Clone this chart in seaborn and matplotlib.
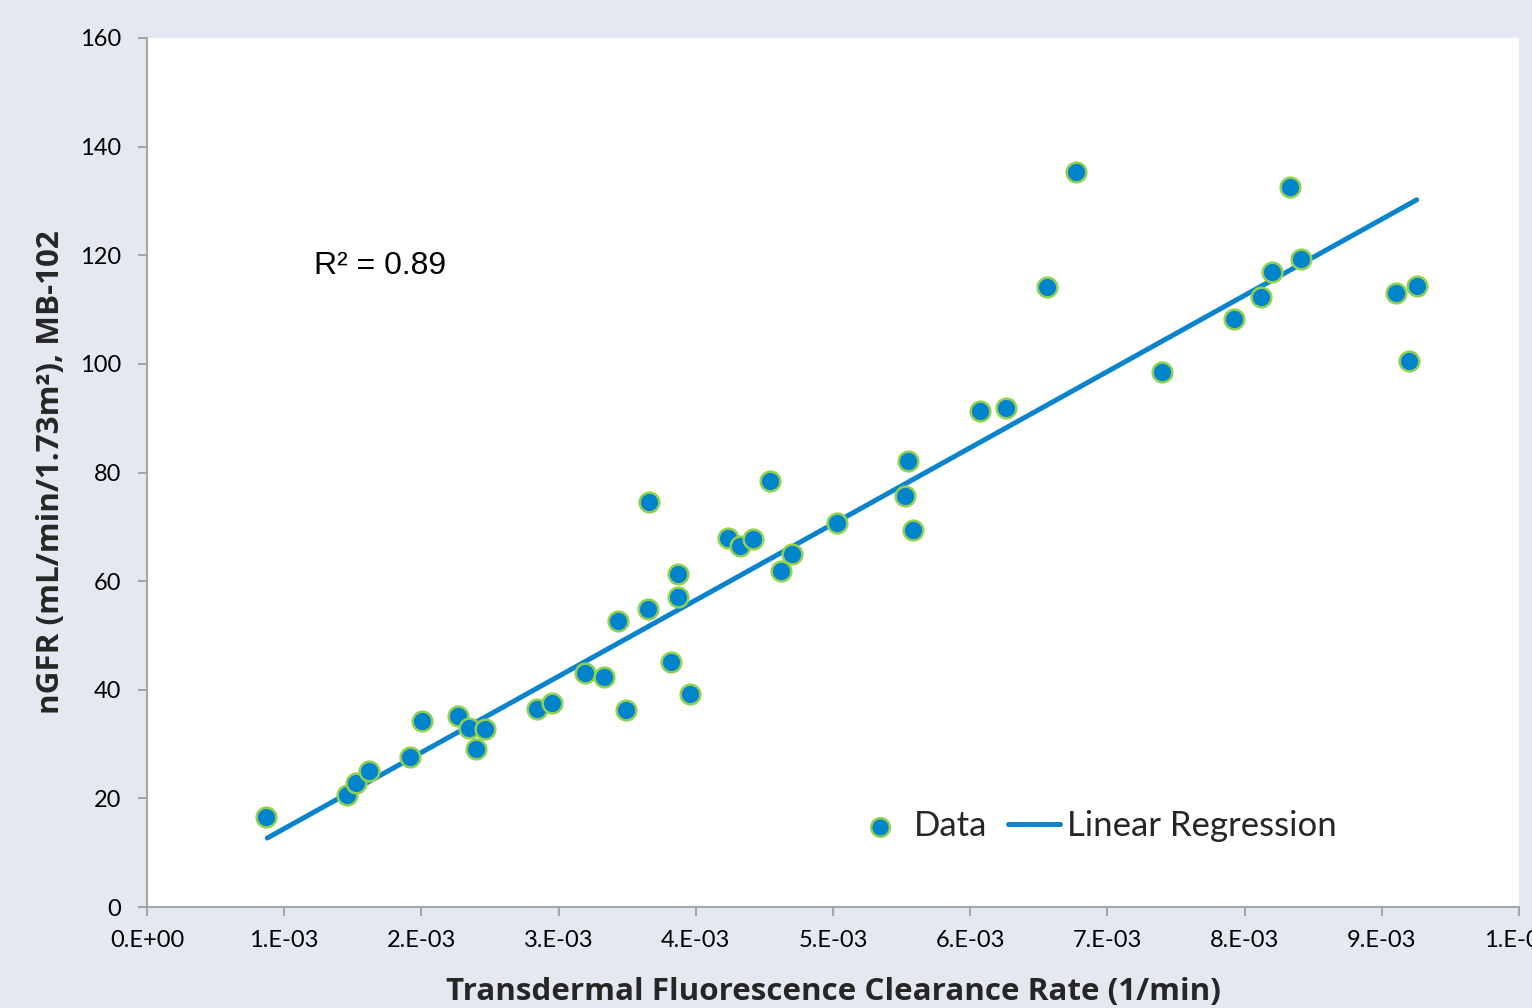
import numpy as np
import pandas as pd
import matplotlib
matplotlib.use("Agg")
import matplotlib.pyplot as plt
from matplotlib.ticker import FixedLocator, FixedFormatter
import seaborn as sns

# ---- data ----
clearance = [0.867e-3, 1.458e-3, 1.523e-3, 1.618e-3, 1.917e-3, 2.004e-3, 2.267e-3,
             2.347e-3, 2.398e-3, 2.464e-3, 2.843e-3, 2.952e-3, 3.192e-3, 3.331e-3,
             3.433e-3, 3.491e-3, 3.652e-3, 3.659e-3, 3.819e-3, 3.870e-3, 3.870e-3,
             3.958e-3, 4.235e-3, 4.322e-3, 4.417e-3, 4.541e-3, 4.621e-3, 4.701e-3,
             5.029e-3, 5.525e-3, 5.547e-3, 5.583e-3, 6.071e-3, 6.261e-3, 6.560e-3,
             6.771e-3, 7.398e-3, 7.923e-3, 8.120e-3, 8.200e-3, 8.331e-3, 8.411e-3,
             9.104e-3, 9.198e-3, 9.257e-3]
ngfr = [16.6, 20.7, 22.9, 25.1, 27.7, 34.3, 35.2,
        33.0, 29.0, 32.7, 36.4, 37.5, 43.0, 42.3,
        52.6, 36.2, 54.8, 74.6, 45.2, 61.3, 57.0,
        39.3, 67.9, 66.4, 67.7, 78.4, 61.8, 65.0,
        70.7, 75.7, 82.1, 69.4, 91.3, 91.9, 114.2,
        135.4, 98.5, 108.3, 112.4, 117.0, 132.5, 119.4,
        113.1, 100.6, 114.4]

# regression line end points as shown in the reference
fit_x = [0.877e-3, 9.254e-3]
fit_y = [12.7, 130.2]

x_ticks = [i * 1e-3 for i in range(11)]
x_tick_labels = ["0.E+00", "1.E-03", "2.E-03", "3.E-03", "4.E-03", "5.E-03",
                 "6.E-03", "7.E-03", "8.E-03", "9.E-03", "1.E-02"]
y_ticks = [0, 20, 40, 60, 80, 100, 120, 140, 160]
r2_text = "R\u00b2 = 0.89"

df = pd.DataFrame({"x": clearance, "y": ngfr})
fit = pd.DataFrame({"x": fit_x, "y": fit_y})

# ---- style ----
sns.set_theme(style="white")
plt.rcParams["font.family"] = ["Lato", "DejaVu Sans"]
bg = "#E4E8F0"
dot_color = "#0284CC"
edge_color = "#92D050"
line_color = "#0A84CC"
spine_color = "#A6A6A6"

fig = plt.figure(figsize=(15.32, 10.08), dpi=100, facecolor=bg)
ax = fig.add_axes([147 / 1532, 101 / 1008, (1519 - 147) / 1532, (907 - 38) / 1008])
ax.set_facecolor("white")

sns.lineplot(data=fit, x="x", y="y", ax=ax, color=line_color, linewidth=3.6,
             solid_capstyle="round", label="Linear Regression", zorder=2)
sns.scatterplot(data=df, x="x", y="y", ax=ax, s=200, color=dot_color,
                edgecolor=edge_color, linewidth=1.8, label="Data", zorder=3)

ax.set_xlim(0, 0.01)
ax.set_ylim(0, 160)
ax.xaxis.set_major_locator(FixedLocator(x_ticks))
ax.xaxis.set_major_formatter(FixedFormatter(x_tick_labels))
ax.yaxis.set_major_locator(FixedLocator(y_ticks))

for side in ["top", "right"]:
    ax.spines[side].set_visible(False)
for side in ["left", "bottom"]:
    ax.spines[side].set_color(spine_color)
    ax.spines[side].set_linewidth(1.5)

ax.tick_params(axis="both", which="major", direction="out", length=6.5, width=1.5,
               color=spine_color, labelsize=17, labelcolor="black", pad=11,
               bottom=True, left=True)
ax.tick_params(axis="y", pad=12)
ax.tick_params(axis="x", pad=10)
for lab in ax.get_xticklabels():
    lab.set_clip_on(False)

ax.set_xlabel("Transdermal Fluorescence Clearance Rate (1/min)", fontsize=22.6,
              fontweight="bold", family=["Open Sans", "DejaVu Sans"], va="top")
ax.xaxis.set_label_coords(0.5, -0.080)
ax.set_ylabel("nGFR (mL/min/1.73m\u00b2), MB-102", fontsize=22.6,
              fontweight="bold", family=["Open Sans", "DejaVu Sans"])
ax.yaxis.set_label_coords(-0.059, 0.5)

ax.text(0.00122, 118, r2_text, fontsize=23, family=["Liberation Sans", "DejaVu Sans"],
        ha="left", va="center", color="black")

handles, labels = ax.get_legend_handles_labels()
order = [labels.index("Data"), labels.index("Linear Regression")]
ax.legend([handles[i] for i in order], [labels[i] for i in order],
          loc="center", bbox_to_anchor=(0.7150, 0.1805),
          bbox_transform=fig.transFigure, ncol=2, frameon=False, fontsize=25,
          handlelength=1.5, handletextpad=0.2, columnspacing=0.6,
          markerscale=0.95)

fig.savefig("out.png", dpi=100, facecolor=bg)
